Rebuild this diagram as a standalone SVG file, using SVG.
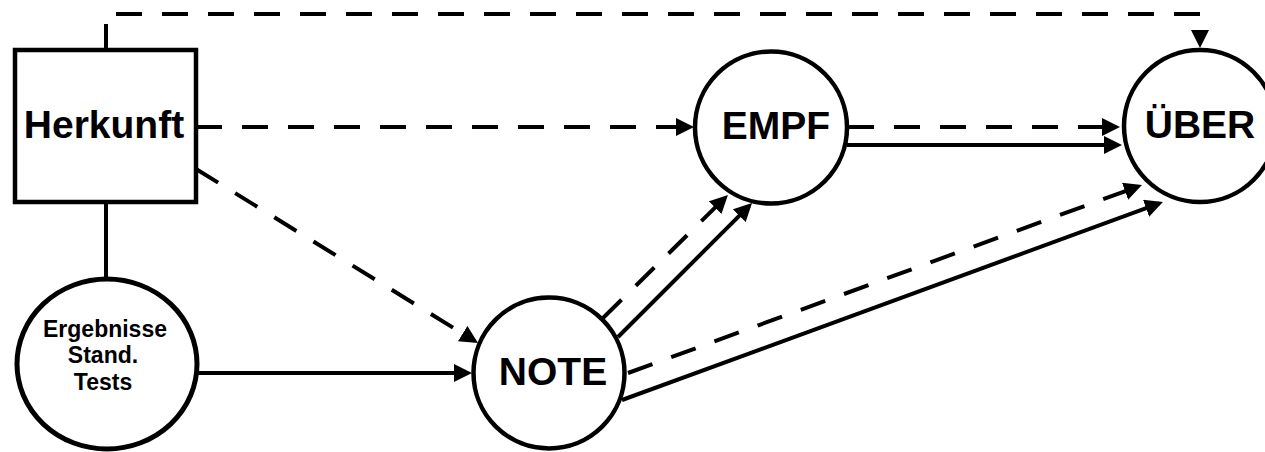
<svg xmlns="http://www.w3.org/2000/svg" width="1265" height="452" viewBox="0 0 1265 452">
<style>
.node{fill:#fff;stroke:#000;stroke-width:4.5}
.lbl{font-family:"Liberation Sans",Arial,sans-serif;font-weight:bold;fill:#000;text-anchor:middle}
.big{font-size:39px}
.small{font-size:23px}
.c{fill:none;stroke:#000;stroke-width:4}
.d{stroke-dasharray:26 20}
.a{marker-end:url(#ah)}
</style>
<defs>
<marker id="ah" markerUnits="userSpaceOnUse" markerWidth="18" markerHeight="18" refX="14" refY="9" orient="auto">
<path d="M0,0 L18,9 L0,18 z" fill="#000"/>
</marker>
</defs>
<rect width="1265" height="452" fill="#fff"/>
<g id="connectors">
<path class="c d a" d="M106,50 V14 H1200 V44"/>
<line class="c" x1="106" y1="202" x2="106" y2="278"/>
<line class="c d a" x1="196" y1="127" x2="690" y2="127"/>
<line class="c d a" x1="848" y1="127" x2="1116" y2="127"/>
<line class="c a" x1="847" y1="145" x2="1118" y2="145"/>
<line class="c d a" x1="196" y1="169" x2="474.6" y2="340.9"/>
<line class="c a" x1="198" y1="373" x2="468" y2="373"/>
<line class="c d a" x1="603" y1="318" x2="725.1" y2="197.8"/>
<line class="c a" x1="618" y1="337" x2="749.2" y2="205.8"/>
<line class="c d a" x1="628" y1="373" x2="1138.2" y2="186.4"/>
<line class="c a" x1="622" y1="400" x2="1159.2" y2="203.4"/>
</g>
<g id="herkunft">
<rect class="node" x="15" y="50" width="181" height="152"/>
<text class="lbl big" x="104" y="138">Herkunft</text>
</g>
<g id="ergebnisse">
<ellipse class="node" cx="107" cy="364" rx="90" ry="85" style="stroke-width:5"/>
<text class="lbl small" x="105" y="337">Ergebnisse</text>
<text class="lbl small" x="103" y="363">Stand.</text>
<text class="lbl small" x="103" y="390">Tests</text>
</g>
<g id="note">
<circle class="node" cx="549" cy="373" r="75.5"/>
<text class="lbl big" x="553" y="385">NOTE</text>
</g>
<g id="empf">
<circle class="node" cx="771" cy="127.5" r="76"/>
<text class="lbl big" x="776" y="139">EMPF</text>
</g>
<g id="ueber">
<circle class="node" cx="1200" cy="126" r="76"/>
<text class="lbl big" x="1200" y="138">ÜBER</text>
</g>
</svg>
